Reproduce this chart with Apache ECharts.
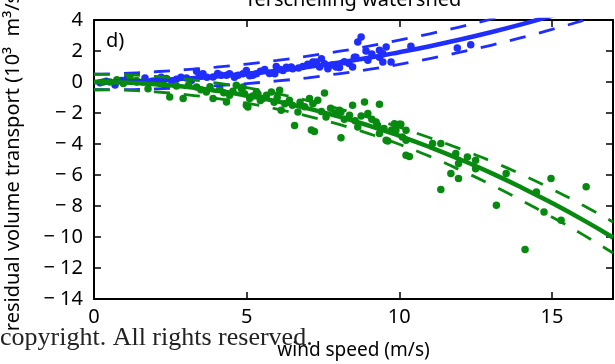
<!DOCTYPE html>
<html>
<head>
<meta charset="utf-8">
<script src="https://cdn.jsdelivr.net/npm/echarts@6/dist/echarts.min.js"></script>
<style>html,body{margin:0;padding:0;background:#fff;}#c{width:615px;height:364px;}</style>
</head>
<body>
<div id="c"></div>
<script>
// wind speed grid for fitted curves
const fitX = [0,1,2,3,4,5,6,7,8,9,10,11,12,13,14,15,16,17];
// blue (positive transport) fit and band
const blueFit   = [0,0.03,0.11,0.22,0.36,0.53,0.73,0.97,1.25,1.56,1.92,2.31,2.74,3.21,3.72,4.27,4.86,5.5];
const blueUpper = [0.5,0.55,0.66,0.8,0.96,1.16,1.39,1.67,1.97,2.31,2.7,3.11,3.56,4.05,4.58,5.15,5.76,6.42];
const blueLower = [-0.5,-0.49,-0.44,-0.36,-0.24,-0.1,0.07,0.27,0.53,0.81,1.14,1.51,1.92,2.37,2.86,3.39,3.96,4.58];
// green (negative transport) fit and band
const greenFit   = [0,-0.03,-0.14,-0.31,-0.56,-0.87,-1.25,-1.7,-2.22,-2.81,-3.47,-4.2,-5.0,-5.86,-6.8,-7.81,-8.88,-10.03];
const greenUpper = [0.5,0.47,0.36,0.19,-0.06,-0.37,-0.75,-1.2,-1.72,-2.29,-2.92,-3.6,-4.32,-5.1,-5.96,-6.91,-7.93,-9.03];
const greenLower = [-0.5,-0.53,-0.64,-0.81,-1.06,-1.37,-1.75,-2.2,-2.72,-3.33,-4.02,-4.8,-5.68,-6.62,-7.64,-8.71,-9.83,-11.03];
// observations [wind speed, transport]
const bluePoints = [[0.2,-0.05],[0.4,0.05],[0.69,-0.2],[0.9,0.1],[1.07,0.17],[1.4,0.0],[1.67,0.26],[1.9,0.05],[2.05,0.1],[2.2,0.3],[2.37,0.22],[2.55,0.05],[2.7,0.17],[2.85,0.3],[3.03,0.26],[3.19,0.1],[3.36,0.69],[3.45,0.4],[3.57,0.54],[3.7,0.3],[3.9,0.32],[4.05,0.55],[4.17,0.43],[4.34,0.43],[4.44,0.54],[4.6,0.3],[4.72,0.43],[4.88,0.54],[4.99,0.75],[5.1,0.4],[5.2,0.43],[5.32,0.54],[5.45,0.7],[5.59,0.8],[5.75,0.55],[5.92,0.54],[5.97,1.0],[6.1,0.8],[6.19,0.75],[6.3,0.95],[6.46,0.97],[6.51,0.86],[6.7,0.9],[6.84,1.0],[7.0,1.15],[7.17,1.29],[7.28,1.29],[7.39,0.97],[7.45,1.5],[7.55,1.18],[7.66,0.86],[7.8,1.1],[7.93,0.97],[8.04,0.93],[8.2,1.3],[8.35,1.2],[8.47,0.97],[8.53,1.6],[8.58,1.6],[8.64,2.58],[8.75,2.9],[8.91,2.0],[8.97,1.4],[9.1,1.8],[9.35,1.6],[9.35,2.05],[9.46,1.83],[9.46,1.29],[9.57,2.26],[9.73,1.29],[10.38,2.3],[11.9,2.2],[12.34,2.4]];
const greenPoints = [[0.3,0.0],[0.52,0.0],[0.75,0.15],[0.96,-0.1],[1.18,0.32],[1.39,0.1],[1.6,0.0],[1.77,-0.43],[1.95,0.05],[2.16,-0.1],[2.3,-0.2],[2.48,-0.97],[2.7,-0.25],[2.92,-1.07],[3.1,-0.2],[3.36,-0.32],[3.5,-0.5],[3.68,-0.65],[3.8,-0.3],[3.9,-1.07],[4.12,-0.43],[4.25,-0.7],[4.34,-1.29],[4.44,-0.86],[4.55,-0.6],[4.66,-0.21],[4.83,-0.43],[4.88,-0.32],[4.93,-0.75],[4.99,-1.5],[5.04,-1.61],[5.1,-1.07],[5.2,-0.9],[5.32,-0.65],[5.37,-0.75],[5.45,-1.2],[5.53,-1.07],[5.65,-0.85],[5.81,-0.65],[5.9,-1.3],[6.0,-1.0],[6.08,-0.54],[6.13,-1.83],[6.25,-1.4],[6.4,-1.18],[6.5,-1.5],[6.57,-2.8],[6.68,-1.94],[6.75,-1.3],[6.9,-1.6],[7.06,-1.07],[7.12,-3.1],[7.17,-1.4],[7.22,-3.2],[7.33,-1.18],[7.45,-1.9],[7.55,-0.71],[7.6,-2.26],[7.75,-1.7],[7.9,-2.0],[8.04,-1.83],[8.09,-3.59],[8.09,-1.94],[8.2,-2.4],[8.37,-2.15],[8.47,-1.5],[8.55,-2.5],[8.64,-2.9],[8.75,-2.2],[8.86,-1.29],[8.97,-2.04],[9.1,-2.4],[9.24,-2.58],[9.29,-2.79],[9.35,-1.44],[9.35,-3.33],[9.5,-3.0],[9.57,-3.76],[9.62,-3.8],[9.75,-3.1],[9.84,-2.69],[9.89,-3.12],[10.0,-2.73],[10.05,-2.73],[10.1,-3.55],[10.22,-3.12],[10.22,-3.76],[10.22,-4.73],[10.33,-4.8],[11.09,-3.97],[11.36,-3.97],[11.36,-6.94],[11.69,-5.9],[11.85,-4.62],[11.94,-5.26],[11.94,-6.23],[12.23,-4.84],[12.5,-5.05],[12.5,-5.59],[13.18,-7.95],[13.5,-5.9],[14.12,-10.8],[14.49,-7.1],[14.74,-8.39],[14.97,-6.23],[15.3,-8.92],[16.12,-6.75]];
const xTicks = {min:0, max:17, interval:5};
const yTicks = {min:-14, max:4, interval:2};

const BLUE = '#1f2dff', GREEN = '#078a0f';
const FONT = 'Noto Sans';
const pair = (xs, ys) => xs.map((x, i) => [x, ys[i]]);

function lineSeries(data, color, dashed, width) {
  return {type:'line', data:data, smooth:true, showSymbol:false, symbol:'none',
    lineStyle:{color:color, width:width, type: dashed ? [16,14] : 'solid'}, z: 3, animation:false};
}
function dotSeries(data, color) {
  return {type:'scatter', data:data, symbol:'circle', symbolSize:7.5,
    itemStyle:{color:color, opacity:1}, z:2, animation:false};
}
const axisCommon = {
  axisLine:{show:true, onZero:false, lineStyle:{color:'#000', width:2}},
  axisTick:{show:true, inside:true, length:7, lineStyle:{color:'#000', width:1.5}},
  splitLine:{show:false}
};
const chart = echarts.init(document.getElementById('c'), null, {renderer:'canvas'});
chart.setOption({
  animation:false,
  grid:{left:94, right:2, top:20, bottom:65, containLabel:false, outerBoundsMode:'none'},
  xAxis:[
    Object.assign({type:'value', position:'bottom', min:xTicks.min, max:xTicks.max, interval:xTicks.interval,
      name:'wind speed (m/s)', nameLocation:'middle', nameGap:42,
      nameTextStyle:{fontFamily:FONT, fontSize:19, color:'#000'},
      axisLabel:{fontFamily:FONT, fontSize:20, color:'#000', margin:8, showMaxLabel:false}}, axisCommon),
    Object.assign({type:'value', position:'top', min:xTicks.min, max:xTicks.max, interval:xTicks.interval,
      axisLabel:{show:false}}, axisCommon)
  ],
  yAxis:[
    Object.assign({type:'value', position:'left', min:yTicks.min, max:yTicks.max, interval:yTicks.interval,
      name:'residual volume transport (10³  m³/s)', nameLocation:'middle', nameGap:71,
      nameTextStyle:{fontFamily:FONT, fontSize:20, color:'#000'},
      axisLabel:{fontFamily:FONT, fontSize:20, color:'#000', margin:11,
        formatter: v => v < 0 ? '\u2212 ' + Math.abs(v) : String(v)}}, axisCommon),
    Object.assign({type:'value', position:'right', min:yTicks.min, max:yTicks.max, interval:yTicks.interval,
      axisLabel:{show:false}}, axisCommon)
  ],
  series:[
    dotSeries(bluePoints, BLUE),
    lineSeries(pair(fitX, blueUpper), BLUE, true, 2.8),
    lineSeries(pair(fitX, blueLower), BLUE, true, 2.8),
    lineSeries(pair(fitX, blueFit), BLUE, false, 4.5),
    dotSeries(greenPoints, GREEN),
    lineSeries(pair(fitX, greenUpper), GREEN, true, 2.8),
    lineSeries(pair(fitX, greenLower), GREEN, true, 2.8),
    lineSeries(pair(fitX, greenFit), GREEN, false, 4.5)
  ],
  graphic:[
    {type:'text', style:{text:'Terschelling watershed', x:353, y:0, align:'center', verticalAlign:'middle', font:'20px "Noto Sans"', fill:'#000'}},
    {type:'text', style:{text:'d)', x:106, y:41, align:'left', verticalAlign:'middle', font:'20px "Noto Sans"', fill:'#000'}},
    {type:'text', style:{text:'copyright. All rights reserved.', x:0, y:338, align:'left', verticalAlign:'middle', font:'26px "Liberation Serif"', fill:'#222'}, z:100}
  ]
});
</script>
</body>
</html>
